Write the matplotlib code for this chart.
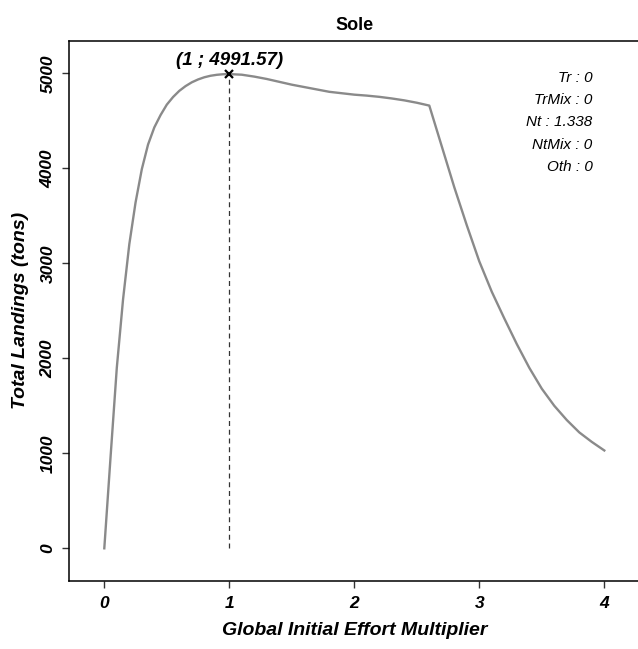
import matplotlib
matplotlib.use("Agg")
import matplotlib.pyplot as plt

plt.rcParams['font.family'] = ['Liberation Sans', 'DejaVu Sans']

# Global effort multiplier and resulting total landings of sole (tons)
effort = [0.0, 0.05, 0.1, 0.15, 0.2, 0.25, 0.3, 0.35, 0.4, 0.45, 0.5,
          0.55, 0.6, 0.65, 0.7, 0.75, 0.8, 0.85, 0.9, 0.95, 1.0,
          1.1, 1.2, 1.3, 1.4, 1.5, 1.6, 1.7, 1.8, 1.9, 2.0,
          2.1, 2.2, 2.3, 2.4, 2.5, 2.6, 2.7, 2.8, 2.9, 3.0,
          3.1, 3.2, 3.3, 3.4, 3.5, 3.6, 3.7, 3.8, 3.9, 4.0]
landings = [0, 960, 1900, 2620, 3200, 3640, 3990, 4250, 4430, 4560, 4670,
            4750, 4815, 4865, 4905, 4935, 4958, 4974, 4984, 4990, 4991.57,
            4985, 4965, 4940, 4910, 4880, 4855, 4830, 4805, 4790, 4775,
            4765, 4752, 4735, 4715, 4690, 4660, 4230, 3800, 3400, 3020,
            2700, 2420, 2150, 1900, 1680, 1500, 1350, 1220, 1120, 1030]

peak_x = 1
peak_y = 4991.57

fleet_names = ["Tr", "TrMix", "Nt", "NtMix", "Oth"]
fleet_values = ["0", "0", "1.338", "0", "0"]

x_ticks = [0, 1, 2, 3, 4]
y_ticks = [0, 1000, 2000, 3000, 4000, 5000]

W, H = 638, 649
fig = plt.figure(figsize=(W / 100, H / 100), dpi=100)
left, right, top, bottom = 69.3, 639.3, 40.7, 581.0
ax = fig.add_axes([left / W, 1 - bottom / H, (right - left) / W, (bottom - top) / H])

ax.plot(effort, landings, color="#8a8a8a", lw=1.7, solid_joinstyle="round")
ax.plot([peak_x, peak_x], [0, peak_y], color="#333333", lw=0.9, ls=(0, (4, 3)))
ax.plot([peak_x], [peak_y], marker="x", color="black", ms=6, mew=1.6)
ax.annotate(f"({peak_x} ; {peak_y:.2f})", (peak_x, peak_y), xytext=(0, 14),
            textcoords="offset pixels", ha="center", va="center",
            fontsize=13.5, fontweight="bold", fontstyle="italic")

ax.set_xlim(-0.28, 4.28)
ax.set_ylim(-344, 5343)
ax.set_xticks(x_ticks)
ax.set_yticks(y_ticks)
ax.set_xticklabels([str(v) for v in x_ticks], fontsize=12.5, fontweight="bold",
                   fontstyle="italic")
ax.set_yticklabels([str(v) for v in y_ticks], fontsize=12.5, fontweight="bold",
                   fontstyle="italic", rotation=90, va="center")
ax.tick_params(axis="x", length=5, width=1, pad=6, color="#333333")
ax.tick_params(axis="y", length=5, width=1, pad=5, color="#333333")
for side in ("left", "top", "bottom"):
    ax.spines[side].set_linewidth(1.1)
ax.spines["right"].set_visible(False)

ax.set_xlabel("Global Initial Effort Multiplier", fontsize=14, fontweight="bold",
              fontstyle="italic", labelpad=8)
ax.set_ylabel("Total Landings (tons)", fontsize=14, fontweight="bold",
              fontstyle="italic", labelpad=8)
ax.set_title("Sole", fontsize=13, fontweight="bold", pad=7.5)

for i, (name, val) in enumerate(zip(fleet_names, fleet_values)):
    ax.text(592.7 / W, 1 - (78 + 22.2 * i) / H, f"{name} : {val}",
            transform=fig.transFigure, ha="right", va="center",
            fontsize=11, fontstyle="italic")

fig.savefig("out.png", dpi=100)
